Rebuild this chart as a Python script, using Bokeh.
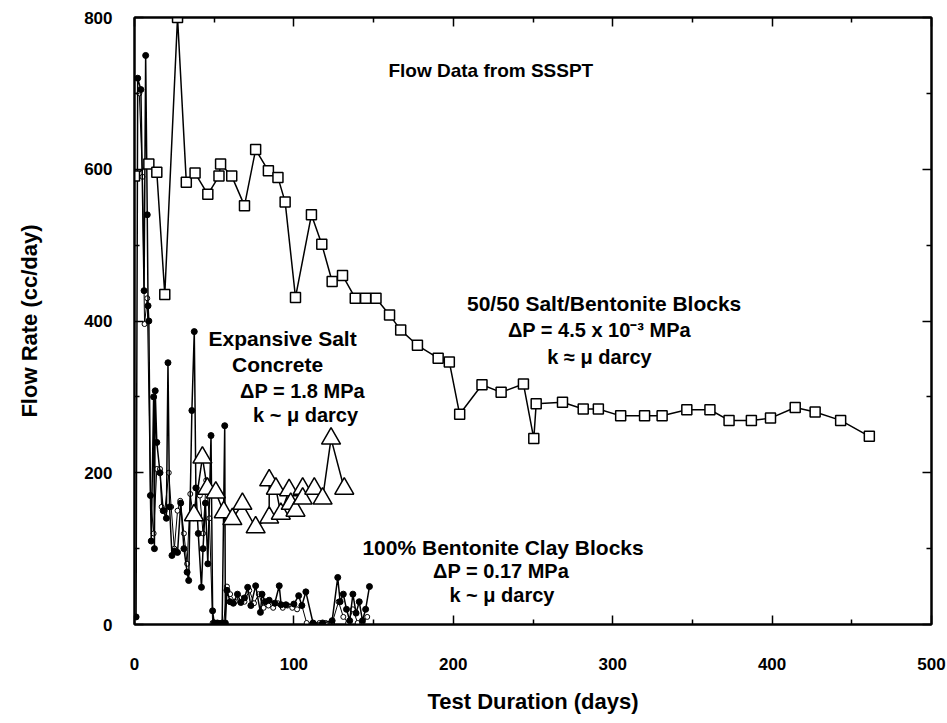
from bokeh.plotting import figure
from bokeh.models import LinearAxis, Range1d, Label, FixedTicker, CustomLabelingPolicy
from bokeh.embed import file_html
from bokeh.resources import INLINE

# 50/50 Salt/Bentonite Blocks (squares)
sb_days = [0, 9, 14, 19, 27, 32.5, 38, 46, 53, 54, 61, 69, 76, 84, 90, 94.5, 101, 111,
           117.5, 124, 130.5, 138.5, 145, 151.5, 160, 167, 177.5, 190.5, 197.5, 204, 218,
           230, 244, 250.5, 252, 268.5, 281.5, 291, 305, 320, 331, 346.5, 361, 373, 387,
           399, 414.5, 427, 443, 461]
sb_flow = [591, 607, 596, 435, 800, 583, 595, 567, 591, 607, 591, 552, 626, 598, 589, 557,
           431, 540, 501, 452, 460, 430, 430, 430, 408, 388, 368, 351, 346, 277, 316, 306,
           317, 245, 291, 293, 284, 284, 275, 275, 275, 283, 283, 269, 269, 272, 286, 280,
           269, 248]

# Expansive Salt Concrete (triangles)
esc_days = [37.3, 42.6, 45.7, 51, 56, 61.4, 67.7, 76, 84.5, 84.5, 88.7, 91.8, 97, 98, 101,
            105.5, 105.5, 112.8, 118, 123.3, 131.6]
esc_flow = [144, 220, 179, 174, 148, 139, 159, 128, 141, 190, 179, 146, 177, 159, 150,
            179, 166, 179, 166, 245, 179]

# 100% Bentonite Clay Blocks (filled dots)
bc_days = [1, 2, 4, 6, 7, 8, 8.5, 9, 10, 10.5, 12, 12.5, 13, 14, 16, 18, 20, 21, 22, 23.5,
           25, 27, 29, 31, 33, 34, 36, 37.5, 38.5, 40, 42, 43, 44.5, 46, 48, 49, 50, 52, 55,
           56.6, 57, 58, 60, 62, 64.6, 66.7, 69, 71, 73, 76, 79, 80, 82, 84.5, 88, 90.8, 92,
           95, 100, 103, 105, 107.5, 112, 118, 124, 127.5, 129, 131, 133, 135, 137, 139, 141,
           143, 145, 147.4]
bc_flow = [10, 720, 705, 440, 750, 540, 420, 400, 170, 110, 300, 100, 308, 240, 200, 150,
           140, 345, 155, 91, 97, 95, 160, 100, 69, 58, 282, 386, 180, 120, 49, 100, 160, 80,
           249, 18, 2, 2, 2, 262, 2, 45, 30, 28, 40, 29, 35, 49, 25, 51, 16, 40, 30, 32, 28,
           51, 26, 26, 27, 38, 25, 43, 2, 2, 5, 62, 30, 40, 20, 5, 40, 15, 30, 5, 20, 50]

# second clay record (open circles)
oc_days = [3, 5, 6.3, 8, 10, 12, 14, 16, 17, 19, 21.5, 23, 25, 27, 28.7, 31, 33, 35, 37, 39,
           41, 43, 45, 47, 49, 51, 53, 56, 58, 60, 63, 66, 69, 72, 75, 78, 81, 84, 87, 90,
           93, 96, 99, 102, 105, 108, 112, 116, 120, 124, 128, 131, 134, 137, 140, 143, 146]
oc_flow = [700, 590, 396, 430, 170, 120, 205, 205, 155, 150, 200, 155, 100, 150, 163, 120,
           80, 172, 140, 180, 170, 120, 190, 140, 2, 2, 2, 2, 50, 40, 30, 35, 30, 45, 28, 40,
           22, 25, 22, 28, 22, 25, 22, 20, 25, 2, 2, 2, 2, 2, 30, 10, 2, 20, 2, 2, 10]

x_ticks = [0, 100, 200, 300, 400, 500]
x_minor = [50, 150, 250, 350, 450]
y_ticks = [0, 200, 400, 600, 800]
y_minor = [100, 300, 500, 700]

FONT = "Liberation Sans"

p = figure(frame_width=797, frame_height=607,
           x_range=Range1d(0, 500), y_range=Range1d(0, 800),
           output_backend="svg", toolbar_location=None,
           min_border_left=134, min_border_top=17, min_border_right=14,
           min_border_bottom=20, background_fill_color="white",
           border_fill_color="white")

p.xgrid.grid_line_color = None
p.ygrid.grid_line_color = None
p.outline_line_color = "black"
p.outline_line_width = 2


def style_axis(ax, ticks, minor, labels=True):
    ax.ticker = FixedTicker(ticks=ticks, minor_ticks=minor)
    ax.axis_line_color = "black"
    ax.axis_line_width = 2
    ax.major_tick_in = 9
    ax.major_tick_out = 0
    ax.minor_tick_in = 5
    ax.minor_tick_out = 0
    ax.major_tick_line_width = 1.5
    ax.minor_tick_line_width = 1.5
    ax.major_tick_line_color = "black"
    ax.minor_tick_line_color = "black"
    ax.major_label_text_font = FONT
    ax.major_label_text_font_style = "bold"
    ax.major_label_text_font_size = "17px"
    ax.major_label_text_color = "black"
    ax.axis_label_text_font = FONT
    ax.axis_label_text_font_style = "bold"
    ax.axis_label_text_font_size = "22px"
    ax.axis_label_text_color = "black"
    if not labels:
        ax.major_label_standoff = 0
        ax.major_label_policy = CustomLabelingPolicy(
            code="for (const i of indices) { indices.unset(i) }")


xa = p.xaxis[0]
style_axis(xa, x_ticks, x_minor)
xa.axis_label = "Test Duration (days)"
xa.major_label_standoff = 33
xa.axis_label_standoff = 16

ya = p.yaxis[0]
style_axis(ya, y_ticks, y_minor)
ya.axis_label = "Flow Rate (cc/day)"
ya.major_label_standoff = 22
ya.axis_label_standoff = 39

top = LinearAxis()
style_axis(top, x_ticks, x_minor, labels=False)
p.add_layout(top, "above")
right = LinearAxis()
style_axis(right, y_ticks, y_minor, labels=False)
p.add_layout(right, "right")

LW = 1.5
p.line(oc_days, oc_flow, line_color="black", line_width=1)
p.scatter(oc_days, oc_flow, marker="circle", size=5, fill_color="white",
          line_color="black", line_width=1)
p.line(bc_days, bc_flow, line_color="black", line_width=LW)
p.scatter(bc_days, bc_flow, marker="circle", size=6, fill_color="black",
          line_color="black")
p.line(esc_days, esc_flow, line_color="black", line_width=LW)
p.scatter(esc_days, esc_flow, marker="triangle", size=19, fill_color="white",
          line_color="black", line_width=LW)
p.line(sb_days, sb_flow, line_color="black", line_width=LW)
p.scatter(sb_days, sb_flow, marker="square", size=10, fill_color="white",
          line_color="black", line_width=LW)

notes = [
    ("Flow Data from SSSPT", 159.3, 730, "left", "19px"),
    ("50/50 Salt/Bentonite Blocks", 208.6, 423, "left", "21px"),
    ("\u0394P = 4.5 x 10\u207b\u00b3 MPa", 291.7, 387.5, "center", "20px"),
    ("k \u2248 \u03bc darcy", 291.7, 352, "center", "20px"),
    ("Expansive Salt", 46.4, 377, "left", "21px"),
    ("Concrete", 61.2, 342.7, "left", "21px"),
    ("\u0394P = 1.8 MPa", 105.4, 308.4, "center", "20px"),
    ("k ~ \u03bc darcy", 107.3, 275.5, "center", "20px"),
    ("100% Bentonite Clay Blocks", 143, 101.5, "left", "21px"),
    ("\u0394P = 0.17 MPa", 230, 70, "center", "20px"),
    ("k ~ \u03bc darcy", 230.5, 39.5, "center", "20px"),
]
for txt, x, y, al, fs in notes:
    p.add_layout(Label(x=x, y=y, text=txt, text_align=al,
                       text_baseline="middle", text_font=FONT,
                       text_font_style="bold", text_font_size=fs,
                       text_color="black"))

open("out.html", "w").write(file_html(p, INLINE))
